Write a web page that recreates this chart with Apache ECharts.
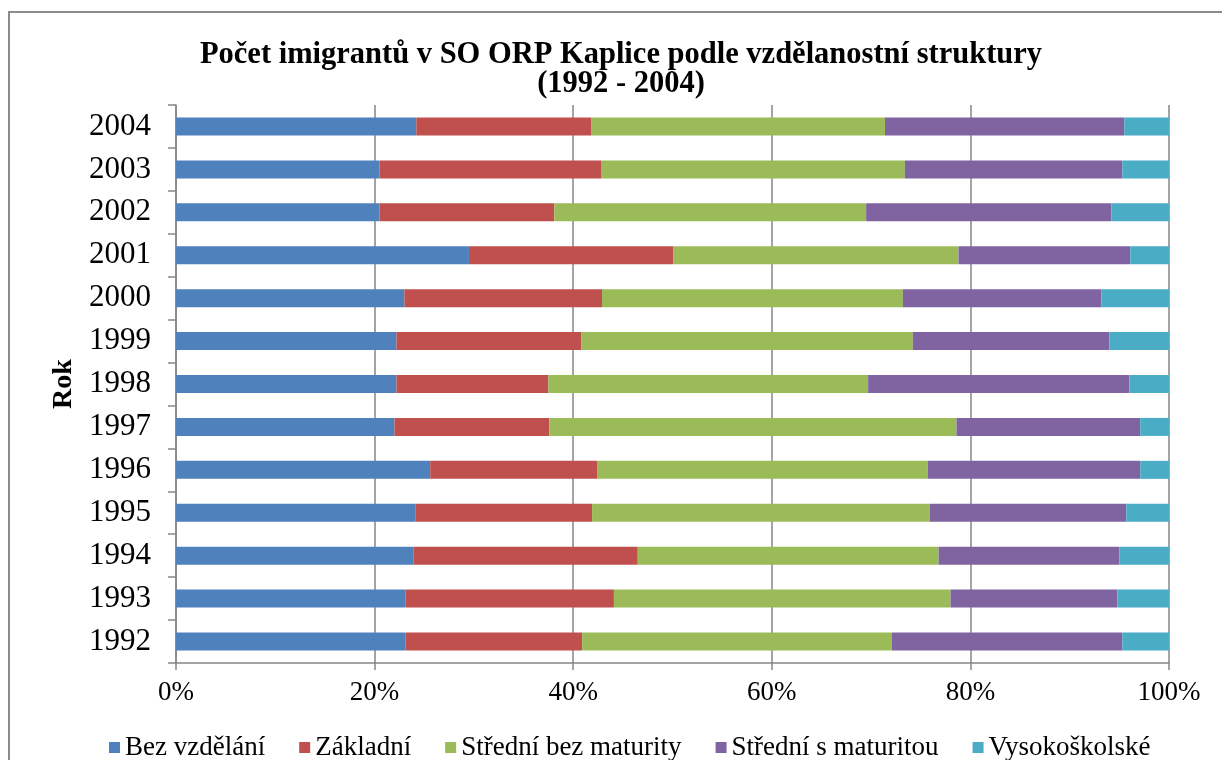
<!DOCTYPE html>
<html>
<head>
<meta charset="utf-8">
<title>Počet imigrantů v SO ORP Kaplice</title>
<script src="https://cdn.jsdelivr.net/npm/echarts@6/dist/echarts.min.js"></script>
<style>
  html, body { margin: 0; padding: 0; background: #fff; }
  #chart { width: 1222px; height: 760px; }
</style>
</head>
<body>
<div id="chart"></div>
<script>
// roky zdola nahoru
var years = ['1992', '1993', '1994', '1995', '1996', '1997', '1998', '1999', '2000', '2001', '2002', '2003', '2004'];

// podily v %
var bezVzdelani   = [23.1, 23.1, 23.9, 24.1, 25.6, 22.0, 22.2, 22.2, 23.0, 29.5, 20.5, 20.5, 24.2];
var zakladni      = [17.8, 21.0, 22.6, 17.8, 16.8, 15.6, 15.3, 18.6, 19.9, 20.6, 17.6, 22.3, 17.6];
var stredniBezMat = [31.2, 33.9, 30.3, 34.0, 33.3, 41.0, 32.2, 33.4, 30.3, 28.7, 31.4, 30.6, 29.6];
var stredniSMat   = [23.2, 16.8, 18.2, 19.8, 21.4, 18.5, 26.3, 19.8, 20.0, 17.3, 24.7, 21.9, 24.1];
var vysokoskolske = [4.7, 5.2, 5.0, 4.3, 2.9, 2.9, 4.0, 6.0, 6.8, 3.9, 5.8, 4.7, 4.5];

var xTicks = [0, 20, 40, 60, 80, 100];

var seriesNames = ['Bez vzdělání', 'Základní', 'Střední bez maturity', 'Střední s maturitou', 'Vysokoškolské'];
var seriesData = [bezVzdelani, zakladni, stredniBezMat, stredniSMat, vysokoskolske];
var colors = ['#4F81BD', '#C0504D', '#9BBB59', '#8064A2', '#4BACC6'];

var font = '"Liberation Serif", "Times New Roman", serif';
var axisGray = '#868686';

var chart = echarts.init(document.getElementById('chart'));

function makeSeries() {
    var list = [];
    for (var i = 0; i < seriesNames.length; i++) {
        list.push({
            name: seriesNames[i],
            type: 'bar',
            stack: 'total',
            barWidth: 18,
            data: seriesData[i],
            itemStyle: { color: colors[i] }
        });
    }
    return list;
}

var option = {
    animation: false,
    color: colors,
    textStyle: { fontFamily: font },
    graphic: [{
        type: 'rect',
        shape: { x: 9, y: 12, width: 1300, height: 900 },
        style: { fill: 'none', stroke: '#8c8c8c', lineWidth: 2 },
        silent: true
    }],
    title: {
        text: 'Počet imigrantů v SO ORP Kaplice podle vzdělanostní struktury\n(1992 - 2004)',
        left: 616,
        textAlign: 'center',
        top: 36,
        textStyle: {
            fontFamily: font,
            fontSize: 30.5,
            fontWeight: 'bold',
            color: '#000',
            lineHeight: 29
        }
    },
    legend: {
        data: seriesNames,
        left: 104,
        top: 729,
        itemWidth: 11,
        itemHeight: 11,
        itemGap: 34,
        icon: 'rect',
        textStyle: { fontFamily: font, fontSize: 27, color: '#000' }
    },
    grid: {
        left: 176,
        right: 53,
        top: 105,
        bottom: 97
    },
    xAxis: {
        type: 'value',
        min: xTicks[0],
        max: xTicks[xTicks.length - 1],
        interval: 20,
        axisLine: { show: true, lineStyle: { color: axisGray, width: 1.5 } },
        axisTick: { show: true, length: 7, lineStyle: { color: axisGray, width: 1.5 } },
        splitLine: { show: true, lineStyle: { color: axisGray, width: 1.5 } },
        axisLabel: {
            formatter: '{value}%',
            margin: 16,
            fontFamily: font,
            fontSize: 27,
            color: '#000'
        }
    },
    yAxis: {
        type: 'category',
        data: years,
        name: 'Rok',
        nameLocation: 'middle',
        nameGap: 96,
        nameTextStyle: { fontFamily: font, fontSize: 28, fontWeight: 'bold', color: '#000' },
        axisLine: { show: true, lineStyle: { color: axisGray, width: 1.5 } },
        axisTick: { show: true, length: 8, lineStyle: { color: axisGray, width: 1.5 } },
        axisLabel: {
            margin: 25,
            fontFamily: font,
            fontSize: 31,
            color: '#000'
        }
    },
    series: makeSeries()
};

chart.setOption(option);
</script>
</body>
</html>
